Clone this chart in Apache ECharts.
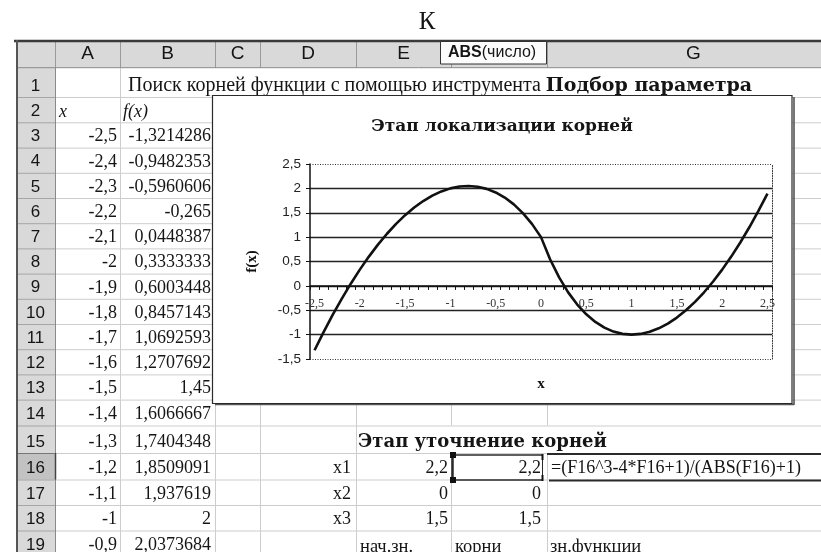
<!DOCTYPE html>
<html><head><meta charset="utf-8">
<script src="https://cdn.jsdelivr.net/npm/echarts@6/dist/echarts.min.js"></script>
<style>html,body{margin:0;padding:0;background:#fff}#c{width:821px;height:552px}</style>
</head><body><div id="c"></div><script>
// ---- chart data (x values of category axis, f(x) values) ----
const chartX = [-2.5,-2.4,-2.3,-2.2,-2.1,-2,-1.9,-1.8,-1.7,-1.6,-1.5,-1.4,-1.3,-1.2,-1.1,-1,-0.9,-0.8,-0.7,-0.6,-0.5,-0.4,-0.3,-0.2,-0.1,0,0.1,0.2,0.3,0.4,0.5,0.6,0.7,0.8,0.9,1,1.1,1.2,1.3,1.4,1.5,1.6,1.7,1.8,1.9,2,2.1,2.2,2.3,2.4,2.5];
const chartY = [-1.3214,-0.9482,-0.5961,-0.265,0.0448,0.3333,0.6003,0.8457,1.0693,1.2708,1.45,1.6067,1.7404,1.8509,1.9376,2,2.0374,2.0489,2.0335,1.99,1.9167,1.8114,1.6715,1.4933,1.2718,1,0.5464,0.1733,-0.1331,-0.3829,-0.5833,-0.74,-0.8571,-0.9378,-0.9847,-1,-0.9852,-0.9418,-0.8709,-0.7733,-0.65,-0.5015,-0.3285,-0.1314,0.0893,0.3333,0.6003,0.89,1.2021,1.5365,1.8929];
const yMin = -1.5, yMax = 2.5, yStep = 0.5;
const chartTitle = 'Этап локализации корней';
const xName = 'x', yName = 'f(x)';

// ---- spreadsheet contents ----
const colHeaders = ['A','B','C','D','E','','G'];
const colA = ['-2,5','-2,4','-2,3','-2,2','-2,1','-2','-1,9','-1,8','-1,7','-1,6','-1,5','-1,4','-1,3','-1,2','-1,1','-1','-0,9'];
const colB = ['-1,3214286','-0,9482353','-0,5960606','-0,265','0,0448387','0,3333333','0,6003448','0,8457143','1,0692593','1,2707692','1,45','1,6066667','1,7404348','1,8509091','1,937619','2','2,0373684'];
const rootNames = ['x1','x2','x3'];
const startVals = ['2,2','0','1,5'];
const rootVals = ['2,2','0','1,5'];
const row19 = ['нач.зн.','корни','зн.функции'];
const row1Regular = 'Поиск корней функции с помощью инструмента ';
const row1Bold = 'Подбор параметра';
const row15Text = 'Этап уточнение корней';
const g16Formula = '=(F16^3-4*F16+1)/(ABS(F16)+1)';
const tipBold = 'ABS', tipRest = '(число)';
const topLetter = 'К';

const SERIF = '"Liberation Serif","Times New Roman",serif';
const BSERIF = '"DejaVu Serif","Liberation Serif",serif';
const SANS = '"Liberation Sans",Arial,sans-serif';
const colEdges = [16,55,120,215,260,356,451,547,840];
const rowEdges = [40,67.7,97,122.3,147.6,172.8,198,223.2,248.4,273.6,298.8,324,349.2,374.4,399.6,425.5,453,479.5,505,530.5,556];
const GRID = { left: 310, top: 164, width: 462, height: 195 };

const els = [];
function rect(x,y,w,h,fill,stroke,lw,z){els.push({type:'rect',z:z||0,silent:true,shape:{x:x,y:y,width:w,height:h},style:{fill:fill||'none',stroke:stroke||null,lineWidth:lw||0}});}
function line(x1,y1,x2,y2,stroke,lw,z){els.push({type:'line',z:(z==null?1:z),silent:true,shape:{x1:x1,y1:y1,x2:x2,y2:y2},style:{stroke:stroke,lineWidth:lw||1}});}
function text(x,y,t,font,align,z,extra){els.push({type:'text',z:(z==null?1.5:z),silent:true,x:x,y:y,style:Object.assign({text:t,font:font,fill:'#151515',textAlign:align||'left',textVerticalAlign:'middle',align:align||'left',verticalAlign:'middle'},extra||{})});}
function rowMid(r){return rowEdges[r+1]-11;}

// background + headers
rect(0,0,821,552,'#ffffff',null,0,-1);
rect(16,40,805,27.7,'#d9d9d9',null,0,0);
rect(16,67.7,39,490,'#d9d9d9',null,0,0);
rect(16,453,39,26.5,'#c2c2c2',null,0,0.2);

// cell grid lines
for (let r=1;r<=19;r++){
  const yb = rowEdges[r+1];
  line(55,yb+0.5,821,yb+0.5,'#cdcdcd',1,1);
  for (let c=2;c<=7;c++){
    const x = colEdges[c];
    if (r===1 && c>=3) continue;
    if (r===15 && (c===6||c===7)) continue;
    line(x+0.5,rowEdges[r],x+0.5,rowEdges[r+1],'#cdcdcd',1,1);
  }
}
// header separators
for (let c=1;c<=7;c++) line(colEdges[c]+0.5,40,colEdges[c]+0.5,67.7,'#9a9a9a',1,1.1);
for (let r=1;r<=19;r++) line(16,rowEdges[r+1]+0.5,55,rowEdges[r+1]+0.5,'#a5a5a5',1,1.1);
line(16,67.7,821,67.7,'#8a8a8a',1,1.1);
line(55.5,67.7,55.5,556,'#8a8a8a',1,1.1);
line(55.5,453,55.5,479.5,'#444',1.5,1.2);
line(16,453.5,55,453.5,'#777',1,1.2);
line(14,41,821,41,'#3a3a3a',2.5,1.3);
line(17,40,17,556,'#555',2,1.3);

// header letters and row numbers
colHeaders.forEach((h,i)=>{ if(h) text((colEdges[i+1]+colEdges[i+2])/2,54,h,'19px '+SANS,'center'); });
for (let r=1;r<=19;r++) text(35.5,rowMid(r),String(r),'17px '+SANS,'center');

// cell texts
els.push({type:'text',z:1.5,silent:true,x:128,y:rowMid(1),style:{text:'{r|'+row1Regular+'}{b|'+row1Bold+'}',textVerticalAlign:'middle',verticalAlign:'middle',fill:'#151515',rich:{r:{fontFamily:SERIF,fontSize:20,fill:'#151515'},b:{fontFamily:BSERIF,fontSize:19,fontWeight:'bold',fill:'#151515'}}}});
text(59,rowMid(2)+1,'x','italic 18px '+SERIF,'left');
text(123,rowMid(2)+1,'f(x)','italic 18px '+SERIF,'left');
colA.forEach((v,i)=>text(117,rowMid(i+3),v,'18px '+SERIF,'right'));
colB.forEach((v,i)=>text(211,rowMid(i+3),v,'18px '+SERIF,'right'));
text(358,rowMid(15),row15Text,'bold 18px '+BSERIF,'left');
rootNames.forEach((v,i)=>text(351,rowMid(16+i),v,'18px '+SERIF,'right'));
startVals.forEach((v,i)=>text(448,rowMid(16+i),v,'18px '+SERIF,'right'));
rootVals.forEach((v,i)=>text(541,rowMid(16+i),v,'18px '+SERIF,'right'));
text(551,rowMid(16),g16Formula,'18px '+SERIF,'left');
text(360,rowMid(19)+2,row19[0],'18.5px '+SERIF,'left');
text(455,rowMid(19)+2,row19[1],'18.5px '+SERIF,'left');
text(550,rowMid(19)+2,row19[2],'18.5px '+SERIF,'left');
text(427,22,topLetter,'25px '+SERIF,'center');

// G16 edit borders and F16 range box
line(547,454,821,454,'#2a2a2a',2,2);
line(549,480.5,821,480.5,'#2a2a2a',2,2);
line(452,455,543,455,'#2a2a2a',1.5,2);
line(452,480,543,480,'#2a2a2a',1.5,2);
line(452.5,455,452.5,480,'#2a2a2a',2.5,2);
line(542.5,455,542.5,480,'#2a2a2a',1,2);
rect(450,452,6,6,'#111',null,0,2.1);
rect(450,477,6,6,'#111',null,0,2.1);
rect(541.5,454,2,6,'#111',null,0,2.1);
rect(541.5,475,2,6,'#111',null,0,2.1);

// ABS tooltip over column F header
rect(440.5,41.5,106,22.5,'#fcfcfc','#333',1,2);
els.push({type:'text',z:2.2,silent:true,x:448,y:53,style:{text:'{b|'+tipBold+'}{n|'+tipRest+'}',textVerticalAlign:'middle',verticalAlign:'middle',fill:'#151515',rich:{b:{fontFamily:SANS,fontSize:16,fontWeight:'bold',fill:'#151515'},n:{fontFamily:SANS,fontSize:16,fill:'#151515'}}}});

// chart box
line(794,97,794,405,'#555',1.6,1.9);
line(215,404.5,794,404.5,'#555',1.6,1.9);
rect(212.5,95.5,579.5,308,'#ffffff','#2a2a2a',1.2,2);
text(502,127,chartTitle,'bold 17px '+BSERIF,'center',2.5);

const fmt = v => String(v).replace('.', ',');
// x axis sits at y = 0 of the value axis
const xAxisOffset = -GRID.height * (0 - yMin) / (yMax - yMin);
const option = {
  animation: false,
  graphic: { elements: els },
  grid: { left: GRID.left, top: GRID.top, width: GRID.width, height: GRID.height, containLabel: false, outerBoundsMode: 'none' },
  xAxis: {
    type: 'category', data: chartX.map(fmt), boundaryGap: true, z: 3, position: 'bottom', offset: xAxisOffset,
    axisLine: { onZero: false, lineStyle: { color: '#111', width: 1.5 } },
    axisTick: { show: true, interval: 0, length: 4, lineStyle: { color: '#111', width: 1 } },
    axisLabel: { interval: 4, margin: 12, fontFamily: SERIF, fontSize: 12, color: '#333' },
    splitLine: { show: false },
    name: xName, nameLocation: 'middle', nameGap: 91,
    nameTextStyle: { fontFamily: SERIF, fontWeight: 'bold', fontSize: 15, color: '#111' }
  },
  yAxis: [{
    type: 'value', min: yMin, max: yMax, interval: yStep, position: 'left', z: 3,
    axisLine: { show: true, onZero: false, lineStyle: { color: '#111', width: 1.5 } },
    axisTick: { show: true, length: 4, lineStyle: { color: '#111' } },
    axisLabel: { margin: 9, fontFamily: SANS, fontSize: 13.5, color: '#222', formatter: v => fmt(v) },
    splitLine: { show: true, showMinLine: false, showMaxLine: false, lineStyle: { color: '#222', width: 1.3 } },
    name: yName, nameLocation: 'middle', nameGap: 50, nameRotate: 90,
    nameTextStyle: { fontFamily: SERIF, fontWeight: 'bold', fontSize: 15, color: '#111' }
  }, {
    type: 'value', min: yMin, max: yMax, interval: yStep, position: 'right', z: 3,
    axisLine: { show: true, onZero: false, lineStyle: { color: '#333', width: 1, type: [1, 1.5] } },
    axisTick: { show: false }, axisLabel: { show: false }, splitLine: { show: false }
  }],
  series: [{
    type: 'line', data: chartY, symbol: 'none', z: 4,
    lineStyle: { color: '#111', width: 2.6 },
    markLine: { silent: true, symbol: 'none', label: { show: false },
      lineStyle: { color: '#333', width: 1, type: [1, 1.5] },
      data: [{ yAxis: yMax }, { yAxis: yMin }] }
  }]
};
const chart = echarts.init(document.getElementById('c'), null, { renderer: 'canvas' });
chart.setOption(option);
</script></body></html>
